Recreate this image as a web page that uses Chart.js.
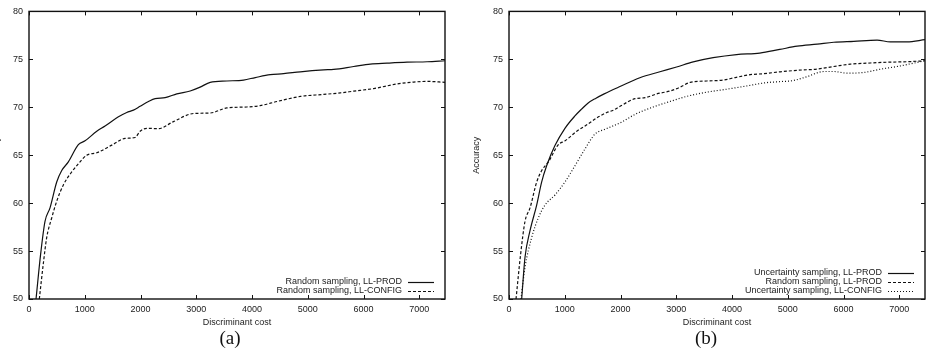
<!DOCTYPE html>
<html>
<head>
<meta charset="utf-8">
<script src="https://cdn.jsdelivr.net/npm/chart.js@4/dist/chart.umd.min.js"></script>
<style>
  html, body { margin: 0; padding: 0; background: #fff; overflow: hidden; }
  body { width: 928px; height: 348px; position: relative; }
  canvas { position: absolute; top: 0; }
  .cap { position: absolute; top: 327px; width: 40px; text-align: center;
         font: 19px "Liberation Serif", "Times New Roman", serif; line-height: 22px; color: #111; }
</style>
</head>
<body>
<canvas id="chartA" width="464" height="348" style="left:-16px"></canvas>
<canvas id="chartB" width="464" height="348" style="left:464px"></canvas>
<div class="cap" style="left:210px">(a)</div>
<div class="cap" style="left:686px">(b)</div>
<script>
// discriminant cost (x) and accuracy (y)
const randProdX = [126, 209, 287, 377, 497, 587, 706, 885, 1005, 1215, 1364, 1604, 1753, 1873, 1992, 2142, 2262, 2441, 2651, 2890, 3069, 3249, 3548, 3847, 4057, 4326, 4565, 4865, 5283, 5463, 5822, 6121, 6420, 6779, 7138, 7460];
const randProdY = [50, 54.7, 58.1, 59.5, 62.2, 63.4, 64.3, 66.1, 66.5, 67.5, 68.05, 69.0, 69.45, 69.7, 70.1, 70.6, 70.9, 71.0, 71.4, 71.7, 72.1, 72.6, 72.74, 72.84, 73.1, 73.4, 73.5, 73.7, 73.9, 73.95, 74.25, 74.5, 74.6, 74.7, 74.75, 74.85];

const randConfigX = [185, 257, 317, 407, 497, 616, 766, 885, 1035, 1215, 1484, 1723, 1903, 1992, 2112, 2321, 2590, 2949, 3249, 3548, 3907, 4146, 4446, 4865, 5283, 5582, 5822, 6181, 6600, 6899, 7138, 7460];
const randConfigY = [50, 53.7, 56.4, 58.45, 60.2, 61.9, 63.25, 64.1, 65.0, 65.25, 66.05, 66.75, 66.85, 67.5, 67.8, 67.77, 68.5, 69.35, 69.4, 69.93, 70.03, 70.17, 70.6, 71.13, 71.34, 71.5, 71.68, 71.95, 72.43, 72.63, 72.7, 72.6];

const uncProdX = [227, 287, 376, 496, 585, 675, 824, 1003, 1183, 1300, 1420, 1560, 1707, 1989, 2347, 2706, 3005, 3303, 3661, 4080, 4497, 4856, 5168, 5526, 5824, 6183, 6600, 6839, 7137, 7460];
const uncProdY = [50, 54.35, 57.1, 59.8, 62.2, 63.9, 66.0, 67.8, 69.1, 69.8, 70.45, 70.95, 71.4, 72.16, 73.08, 73.7, 74.2, 74.73, 75.17, 75.5, 75.65, 76.03, 76.37, 76.58, 76.78, 76.88, 77.0, 76.82, 76.82, 77.05];

const uncConfigX = [215, 287, 406, 525, 645, 824, 1003, 1183, 1362, 1541, 1720, 2019, 2258, 2586, 2885, 3184, 3542, 3900, 4259, 4617, 4856, 5108, 5347, 5645, 5824, 6063, 6361, 6660, 6958, 7256, 7460];
const uncConfigY = [50, 53.3, 56.4, 58.45, 59.8, 60.85, 62.2, 63.9, 65.65, 67.2, 67.7, 68.45, 69.25, 70.03, 70.6, 71.13, 71.57, 71.88, 72.22, 72.57, 72.67, 72.8, 73.2, 73.73, 73.73, 73.56, 73.63, 73.97, 74.25, 74.6, 74.86];

// tick labels
const xTickValues = [0, 1000, 2000, 3000, 4000, 5000, 6000, 7000];
const yTickValues = [50, 55, 60, 65, 70, 75, 80];

Chart.defaults.font.family = "'Liberation Sans', Arial, sans-serif";
Chart.defaults.font.size = 9;
Chart.defaults.color = '#222';

const pts = (xs, ys) => xs.map((x, i) => ({ x: x, y: ys[i] }));

function line(label, xs, ys, dash) {
  return {
    label: label,
    data: pts(xs, ys),
    borderColor: '#111',
    borderWidth: 1.2,
    borderDash: dash,
    pointRadius: 0,
    fill: false,
    cubicInterpolationMode: 'monotone',
  };
}

// gnuplot-like frame: box, inward mirrored ticks, key in the lower right
const framePlugin = {
  id: 'frame',
  afterDraw(chart) {
    const { ctx, chartArea: a, scales: { x, y } } = chart;
    ctx.save();
    ctx.strokeStyle = '#111';
    ctx.lineWidth = 1;
    ctx.beginPath();
    x.ticks.forEach(t => {
      const px = Math.round(x.getPixelForValue(t.value)) + 0.5;
      ctx.moveTo(px, a.bottom); ctx.lineTo(px, a.bottom - 4);
      ctx.moveTo(px, a.top); ctx.lineTo(px, a.top + 4);
    });
    y.ticks.forEach(t => {
      const py = Math.round(y.getPixelForValue(t.value)) + 0.5;
      ctx.moveTo(a.left, py); ctx.lineTo(a.left + 4, py);
      ctx.moveTo(a.right, py); ctx.lineTo(a.right - 4, py);
    });
    ctx.stroke();
    ctx.lineWidth = 1.4;
    ctx.strokeRect(a.left, a.top, a.right - a.left, a.bottom - a.top);

    const sets = chart.data.datasets;
    ctx.font = "9px 'Liberation Sans', Arial, sans-serif";
    ctx.fillStyle = '#222';
    ctx.textAlign = 'right';
    ctx.textBaseline = 'middle';
    sets.forEach((ds, i) => {
      const ry = a.bottom - 8 - (sets.length - 1 - i) * 9;
      ctx.fillText(ds.label, a.right - 43, ry);
      ctx.beginPath();
      ctx.lineWidth = 1.2;
      ctx.setLineDash(ds.borderDash || []);
      ctx.moveTo(a.right - 37, ry + 0.5);
      ctx.lineTo(a.right - 11, ry + 0.5);
      ctx.stroke();
    });
    ctx.restore();
  }
};

function makeChart(id, datasets) {
  return new Chart(document.getElementById(id), {
    type: 'line',
    data: { datasets: datasets },
    plugins: [framePlugin],
    options: {
      responsive: false,
      animation: false,
      layout: { padding: { top: 7, right: 3, left: 0, bottom: 0 } },
      plugins: { legend: { display: false }, tooltip: { enabled: false } },
      scales: {
        x: {
          type: 'linear', min: 0, max: 7460,
          grid: { display: false, drawTicks: false },
          border: { display: false },
          ticks: { autoSkip: false, padding: 5, maxRotation: 0, callback: v => String(v) },
          afterBuildTicks(s) { s.ticks = xTickValues.map(v => ({ value: v })); },
          title: { display: true, text: 'Discriminant cost', padding: { top: 0, bottom: 20 } },
          afterFit(s) { s.height = 49; },
        },
        y: {
          min: 50, max: 80,
          grid: { display: false, drawTicks: false },
          border: { display: false },
          ticks: { autoSkip: false, padding: 6, callback: v => String(v) },
          afterBuildTicks(s) { s.ticks = yTickValues.map(v => ({ value: v })); },
          title: { display: true, text: 'Accuracy', padding: { top: 7, bottom: 0 } },
          afterFit(s) { s.width = 45; },
        },
      },
    },
  });
}

makeChart('chartA', [
  line('Random sampling, LL-PROD', randProdX, randProdY, []),
  line('Random sampling, LL-CONFIG', randConfigX, randConfigY, [3, 2]),
]);

makeChart('chartB', [
  line('Uncertainty sampling, LL-PROD', uncProdX, uncProdY, []),
  line('Random sampling, LL-PROD', randProdX, randProdY, [3, 2]),
  line('Uncertainty sampling, LL-CONFIG', uncConfigX, uncConfigY, [1, 2]),
]);
</script>
</body>
</html>
